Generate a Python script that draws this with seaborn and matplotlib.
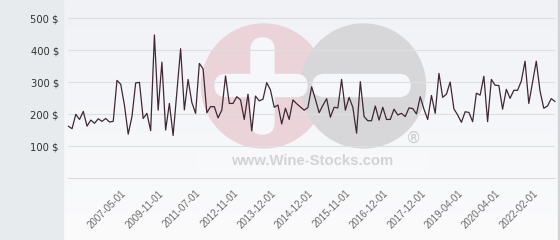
import numpy as np
import pandas as pd
import matplotlib
matplotlib.use("Agg")
import matplotlib.pyplot as plt
from matplotlib.patches import Circle, FancyBboxPatch, Rectangle
import seaborn as sns

# ---- data ----
prices = [162, 154, 199, 183, 208, 162, 181, 171, 185, 177,
          186, 175, 177, 305, 293, 227, 137, 192, 297, 299,
          186, 202, 148, 447, 212, 362, 150, 233, 133, 270,
          404, 213, 308, 236, 202, 358, 341, 204, 223, 223,
          188, 212, 319, 233, 233, 254, 244, 183, 262, 147,
          256, 241, 246, 298, 275, 221, 228, 169, 218, 183,
          244, 232, 222, 212, 220, 285, 246, 204, 227, 248,
          190, 221, 219, 308, 212, 252, 221, 140, 301, 192,
          179, 179, 225, 181, 221, 183, 183, 215, 197, 202,
          192, 219, 217, 200, 254, 215, 183, 258, 202, 327,
          252, 262, 300, 216, 197, 174, 207, 205, 176, 265,
          259, 318, 176, 308, 290, 289, 215, 277, 249, 274,
          274, 303, 365, 233, 299, 365, 272, 218, 225, 248,
          239]
tick_labels = ["2007-05-01", "2009-11-01", "2011-07-01", "2012-11-01",
               "2013-12-01", "2014-12-01", "2015-11-01", "2016-12-01",
               "2017-12-01", "2019-04-01", "2020-04-01", "2022-02-01"]
y_ticks = [100, 200, 300, 400, 500]
tick_start, tick_every = 15, 10

df = pd.DataFrame({"i": np.arange(len(prices)), "price": prices})

sns.set_theme(style="white")
plt.rcParams["font.family"] = ["DejaVu Sans"]

W, H = 560, 240
fig = plt.figure(figsize=(W / 100, H / 100), dpi=100)
fig.patch.set_facecolor("#f6f7fa")

# ---- background layer in pixel coordinates ----
bg = fig.add_axes([0, 0, 1, 1], zorder=0)
bg.set_xlim(0, W)
bg.set_ylim(H, 0)
bg.axis("off")
top = np.array([0xf0, 0xf2, 0xf6]) / 255
bot = np.array([0xfb, 0xfb, 0xfc]) / 255
t = np.linspace(0, 1, 240)[:, None, None]
grad = top * (1 - t) + bot * t
grad = np.repeat(grad, 2, axis=1)
bg.imshow(grad, extent=[63, W, H, 0], aspect="auto", zorder=0)
bg.add_patch(Rectangle((0, 0), 63, H, color="#e7ebee", zorder=1))
bg.add_patch(Rectangle((558, 0), 2, H, color="#d0d3d7", zorder=1))

# watermark
bg.add_patch(Circle((263.5, 86), 62, color="#ead3d9", zorder=2))
bg.add_patch(Circle((363.5, 86), 62, color="#d7d7da", zorder=3))
bar_c = "#f6f7fa"
bg.add_patch(FancyBboxPatch((215, 74.5), 92, 22,
                            boxstyle="round,pad=0,rounding_size=11",
                            color=bar_c, zorder=4))
bg.add_patch(FancyBboxPatch((251, 38), 23, 96,
                            boxstyle="round,pad=0,rounding_size=11.5",
                            color=bar_c, zorder=4))
bg.add_patch(FancyBboxPatch((313, 74.5), 97, 22,
                            boxstyle="round,pad=0,rounding_size=11",
                            color=bar_c, zorder=4))
bg.add_patch(Rectangle((198, 148), 230, 25, color="white", alpha=0.2,
                       linewidth=0, zorder=4))
bg.text(413, 138, "\u00ae", fontsize=11, color="#c9c9cd", ha="center",
        va="center", zorder=5)
bg.text(312, 161, "www.Wine-Stocks.com", fontsize=10.7, fontweight="bold",
        family="Liberation Sans", color="#d3d3d6", ha="center", va="center",
        zorder=5)

# ---- main chart ----
left_px, right_px, bottom_px = 68.3, 555, 178
ax = fig.add_axes([left_px / W, (H - bottom_px) / H,
                   (right_px - left_px) / W, bottom_px / H], zorder=1)
ax.set_facecolor("none")

sns.lineplot(data=df, x="i", y="price", ax=ax, color="#3f2833",
             linewidth=0.9, zorder=3, clip_on=False)

ax.set_xlim(0, len(prices) - 1)
ax.set_ylim(0, bottom_px / 0.32)
ax.set_xlabel("")
ax.set_ylabel("")

ax.set_yticks(y_ticks)
ax.set_yticklabels([f"{v} $" for v in y_ticks], fontsize=7.2, color="#333333")
ax.yaxis.grid(True, color="#dfdfe1", linewidth=0.8)
ax.xaxis.grid(False)
ax.set_axisbelow(True)

xt = list(range(tick_start, len(prices), tick_every))[:len(tick_labels)]
ax.set_xticks(xt)
ax.set_xticklabels(tick_labels, rotation=45, ha="right", va="center",
                   rotation_mode="anchor", fontsize=7,
                   family="Liberation Sans", color="#6a6a6a")
ax.tick_params(axis="both", length=0)
ax.tick_params(axis="y", pad=6.7)
ax.tick_params(axis="x", pad=10)

for s in ["top", "left", "right"]:
    ax.spines[s].set_visible(False)
ax.spines["bottom"].set_color("#d9d9dc")
ax.spines["bottom"].set_linewidth(0.8)

fig.savefig("out.png", dpi=100, facecolor=fig.get_facecolor())
